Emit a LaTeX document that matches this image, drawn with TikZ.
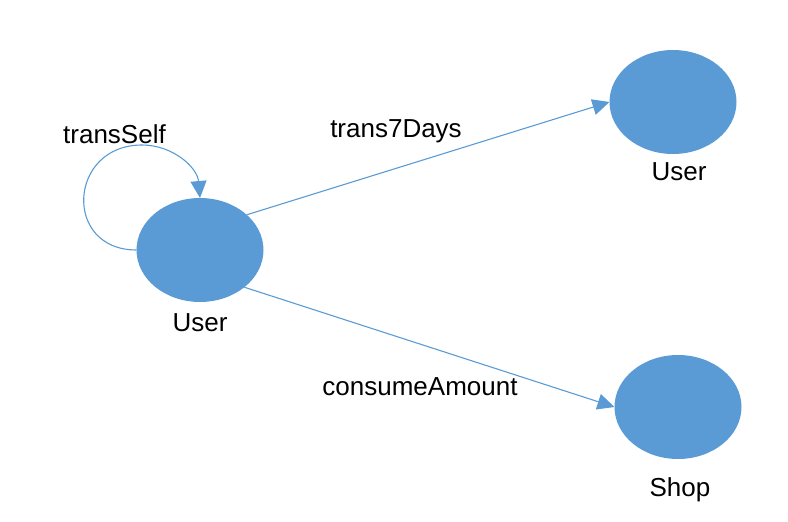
\documentclass[tikz,border=0pt]{standalone}
\usepackage{fontspec}
\setmainfont{Liberation Sans}
\usepackage{tikz}
\usetikzlibrary{arrows.meta,positioning,shapes.geometric}
\definecolor{ugblue}{HTML}{5B9BD5}
\tikzset{
 ug vertex/.style={ellipse,fill=ugblue,draw=none,minimum width=127pt,
                   minimum height=104pt,inner sep=0pt,outer sep=0pt},
 ug edge/.style={draw=ugblue,line width=1.1pt,
                 -{Triangle[length=17pt,width=16pt]}},
 ug label/.style={font=\fontsize{26}{31}\selectfont,inner sep=0pt,
                  text height=19.5pt,text depth=6.5pt}
}

\begin{document}
\begin{tikzpicture}[x=1pt,y=-1pt]
 \useasboundingbox (0,0) rectangle (788,522);
 \node[ug vertex] (userA) at (200,250) {};
 \node[ug vertex] (userB) at (673,102) {};
 \node[ug vertex] (shop) at (678,407) {};
 \coordinate (loopTop) at (142,145);

 \node[ug label,below=9.5pt of userA] (userAName) {User};
 \node[ug label,below=6.5pt of userB,xshift=6pt] (userBName) {User};
 \node[ug label,below=17.5pt of shop,xshift=2pt] (shopName) {Shop};

 \draw[ug edge] (userA.west) to[out=180,in=180,looseness=1.8] (loopTop)
   to[out=0,in=95] (userA.north);
 \draw[ug edge] (userA.37) -- (userB.west);
 \draw[ug edge] (userA.-40) -- (shop.west);

 \node[ug label] (selfName) at (114.5,136.5) {transSelf};
 \node[ug label] (weekName) at (396,131) {trans7Days};
 \node[ug label] (amountName) at (420,389) {consumeAmount};
\end{tikzpicture}
\end{document}
